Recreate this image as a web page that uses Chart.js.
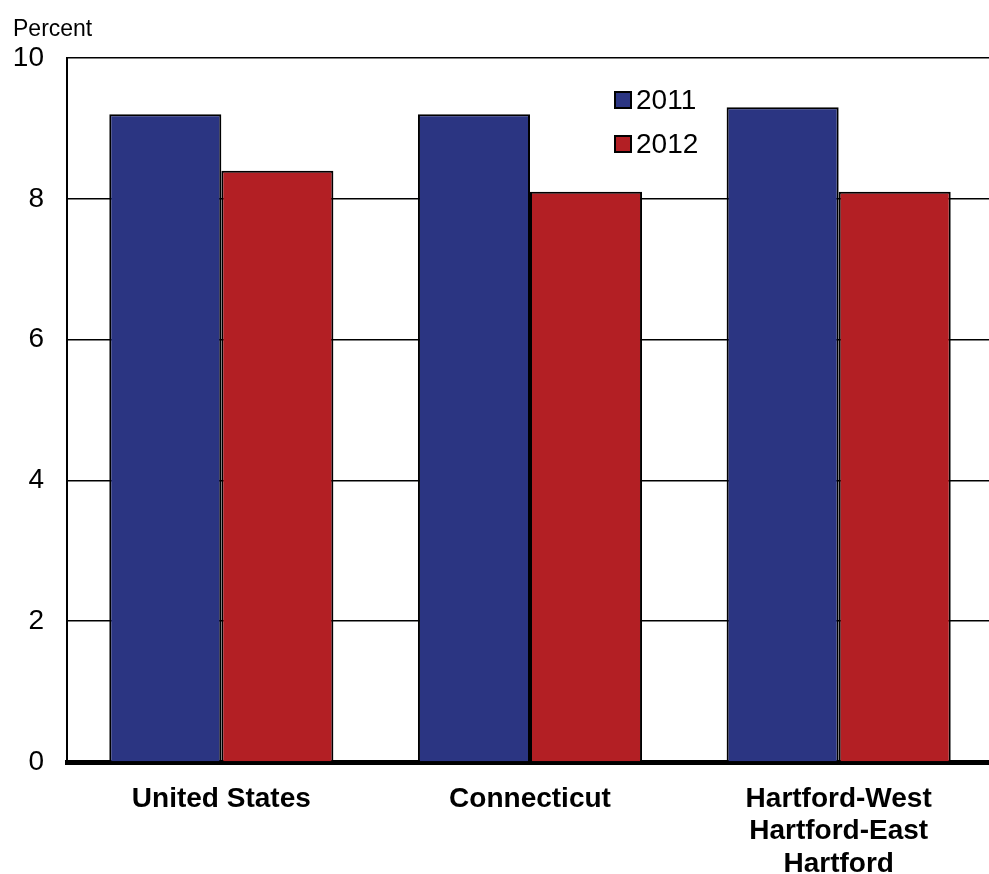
<!DOCTYPE html>
<html>
<head>
<meta charset="utf-8">
<script src="https://cdn.jsdelivr.net/npm/chart.js@4.4.0/dist/chart.umd.min.js"></script>
<style>
  html, body { margin: 0; padding: 0; background: #fff; overflow: hidden; }
  #wrap { width: 989px; height: 874px; overflow: hidden; }
</style>
</head>
<body>
<div id="wrap"><canvas id="chart" width="993" height="874"></canvas></div>
<script>
// --- Data ---
const categories = ['United States', 'Connecticut', ['Hartford-West', 'Hartford-East', 'Hartford']];
const seriesNames = ['2011', '2012'];
const values2011 = [9.2, 9.2, 9.3];
const values2012 = [8.4, 8.1, 8.1];
const yTicks = [0, 2, 4, 6, 8, 10];

const BLUE = '#2B3582';
const RED = '#B31F24';
const FONT = 'Arial, "Liberation Sans", sans-serif';

// legend + "Percent" label drawn by hand
const overlay = {
    id: 'overlay',
    afterDraw(chart) {
        const ctx = chart.ctx;
        ctx.save();
        ctx.fillStyle = '#000';
        ctx.font = '23px ' + FONT;
        ctx.textBaseline = 'alphabetic';
        ctx.textAlign = 'left';
        ctx.fillText('Percent', 13, 36);

        const colors = [BLUE, RED];
        ctx.font = '28px ' + FONT;
        ctx.textBaseline = 'middle';
        seriesNames.forEach((name, i) => {
            const y = 100 + i * 44;
            ctx.fillStyle = colors[i];
            ctx.fillRect(615, y - 8, 16, 16);
            ctx.strokeStyle = '#000';
            ctx.lineWidth = 2;
            ctx.strokeRect(615, y - 8, 16, 16);
            ctx.fillStyle = '#000';
            ctx.fillText(name, 636, y + 1);
        });
        ctx.restore();
    }
};

document.addEventListener('DOMContentLoaded', function () {
    const ctx = document.getElementById('chart');
    new Chart(ctx, {
        type: 'bar',
        data: {
            labels: categories,
            datasets: [
                { label: seriesNames[0], data: values2011, backgroundColor: BLUE, borderColor: '#000', borderWidth: 2, borderSkipped: 'bottom' },
                { label: seriesNames[1], data: values2012, backgroundColor: RED, borderColor: '#000', borderWidth: 2, borderSkipped: 'bottom' }
            ]
        },
        options: {
            responsive: false,
            animation: false,
            devicePixelRatio: 1,
            layout: { padding: { top: 58, left: 0, right: 0, bottom: 0 } },
            datasets: { bar: { categoryPercentage: 0.726, barPercentage: 1.0 } },
            plugins: { legend: { display: false }, tooltip: { enabled: false } },
            scales: {
                x: {
                    grid: { display: false, drawTicks: false },
                    border: { display: true, color: '#000', width: 5 },
                    ticks: {
                        color: '#000',
                        padding: 21,
                        maxRotation: 0,
                        autoSkip: false,
                        font: { family: FONT, size: 28, weight: 'bold', lineHeight: 1.16 }
                    },
                    afterFit(scale) { scale.height = 112; }
                },
                y: {
                    min: 0,
                    max: 10,
                    afterBuildTicks(scale) { scale.ticks = yTicks.map(v => ({ value: v })); },
                    grid: { color: '#000', lineWidth: 1.5, drawTicks: false },
                    border: { display: true, color: '#000', width: 2 },
                    ticks: {
                        color: '#000',
                        padding: 23,
                        font: { family: FONT, size: 28 }
                    },
                    afterFit(scale) { scale.width = 67; }
                }
            }
        },
        plugins: [overlay]
    });
});
</script>
</body>
</html>
